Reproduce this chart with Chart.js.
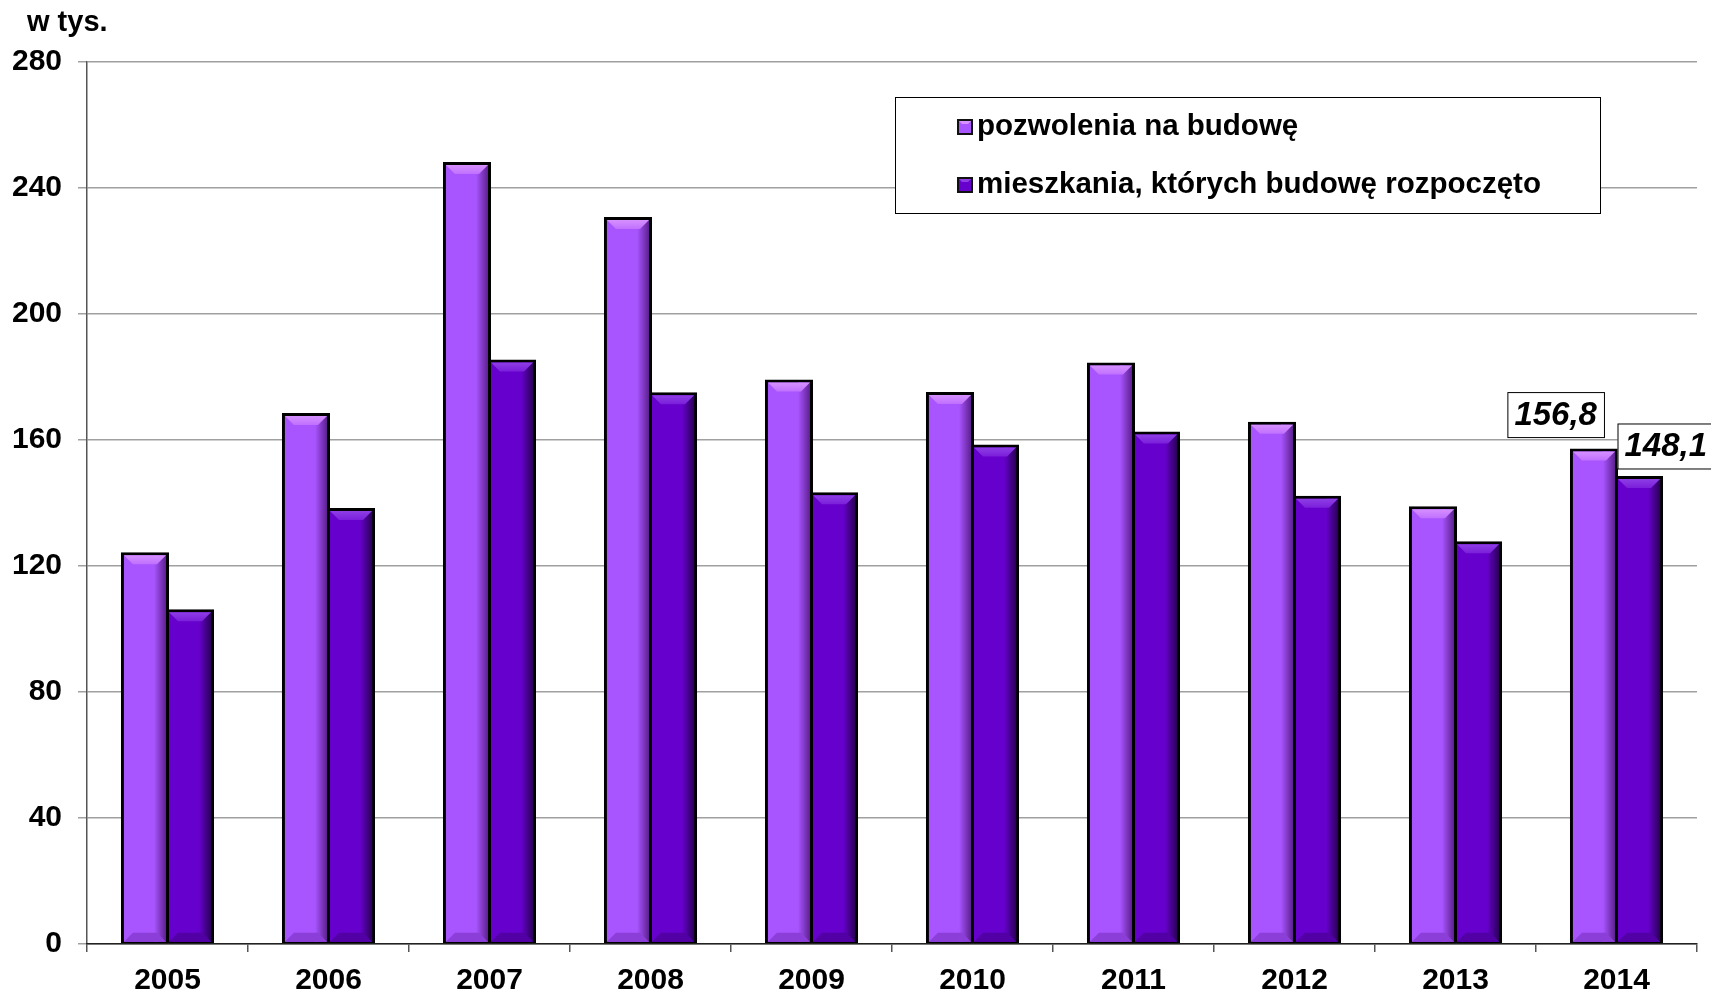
<!DOCTYPE html>
<html>
<head>
<meta charset="utf-8">
<script src="https://cdn.jsdelivr.net/npm/chart.js@4/dist/chart.umd.min.js"></script>
<style>
html,body{margin:0;padding:0;background:#fff;}
canvas{display:block;}
</style>
</head>
<body>
<canvas id="c" width="1711" height="991"></canvas>
<script>
// ---- data ----
const years = ['2005','2006','2007','2008','2009','2010','2011','2012','2013','2014'];
const permits = [123.9, 168.1, 247.8, 230.3, 178.7, 174.8, 184.1, 165.3, 138.5, 156.8];
const started = [105.8, 137.9, 185.1, 174.7, 142.9, 158.1, 162.2, 141.8, 127.4, 148.1];
const seriesNames = ['pozwolenia na budowę', 'mieszkania, których budowę rozpoczęto'];
const yTicks = [0, 40, 80, 120, 160, 200, 240, 280];
const unitLabel = 'w tys.';
const labeledYear = '2014';

const FONT = '"Liberation Sans", Arial, Helvetica, sans-serif';
const palettes = [
  {main:'#A855FF', top:'#D690FF', topEdge:'#C070FF', right:'#5E2090', bottom:'#8C3FD8'},
  {main:'#6600CC', top:'#8E3DE6', topEdge:'#7A1FDA', right:'#2A0058', bottom:'#5200A6'}
];
const INFLATE = 1.5;

function poly(ctx, pts, fill){
  ctx.beginPath();
  ctx.moveTo(pts[0][0], pts[0][1]);
  for (let i=1;i<pts.length;i++) ctx.lineTo(pts[i][0], pts[i][1]);
  ctx.closePath();
  ctx.fillStyle = fill;
  ctx.fill();
}

const bevelPlugin = {
  id:'bevel',
  afterDatasetsDraw(chart){
    const ctx = chart.ctx;
    chart.data.datasets.forEach((ds, di) => {
      const meta = chart.getDatasetMeta(di);
      const p = palettes[di];
      meta.data.forEach(el => {
        const {x, y, base, width} = el.getProps(['x','y','base','width'], true);
        const bw = 3;
        const l = x - width/2 + bw - INFLATE, r = x + width/2 - bw + INFLATE, t = y + bw - INFLATE, b = base - bw + INFLATE;
        const d = 9;
        ctx.save();
        const g = ctx.createLinearGradient(r - 12, 0, r, 0);
        g.addColorStop(0, p.main);
        g.addColorStop(1, p.right);
        poly(ctx, [[r-12,t],[r,t],[r,b],[r-12,b]], g);
        const gt = ctx.createLinearGradient(0, t, 0, t+d);
        gt.addColorStop(0, p.top);
        gt.addColorStop(1, p.topEdge);
        poly(ctx, [[l,t],[r,t],[r-d,t+d],[l+d,t+d]], gt);
        poly(ctx, [[l,b],[r,b],[r-d,b-d],[l+d,b-d]], p.bottom);
        ctx.restore();
      });
    });
    const idx = chart.data.labels.indexOf(labeledYear);
    if (idx < 0) return;
    ctx.save();
    ctx.font = 'italic bold 33px ' + FONT;
    ctx.textBaseline = 'middle';
    chart.data.datasets.forEach((ds, di) => {
      const el = chart.getDatasetMeta(di).data[idx];
      const {x, y, width} = el.getProps(['x','y','width'], true);
      const txt = ds.data[idx].toFixed(1).replace('.', ',');
      const tw = ctx.measureText(txt).width;
      const bwid = tw + 14, bh = 45;
      let bx, by;
      if (di === 0) { bx = x + 10 - bwid; by = y - 13 - bh; }
      else { bx = x - width/2 + 1; by = y - 9 - bh; }
      ctx.fillStyle = '#fff';
      ctx.fillRect(bx, by, bwid, bh);
      ctx.strokeStyle = '#000';
      ctx.lineWidth = 1;
      ctx.strokeRect(bx + 0.5, by + 0.5, bwid, bh);
      ctx.fillStyle = '#000';
      ctx.textAlign = 'center';
      ctx.fillText(txt, bx + bwid/2, by + bh/2 + 1);
    });
    ctx.restore();
  }
};

const decorPlugin = {
  id:'decor',
  afterDraw(chart){
    const ctx = chart.ctx;
    ctx.save();
    ctx.font = 'bold 29px ' + FONT;
    ctx.fillStyle = '#000';
    ctx.textBaseline = 'middle';
    ctx.textAlign = 'left';
    ctx.fillText(unitLabel, 27, 23);
    const lx = 895, ly = 97, lw = 705, lh = 116;
    ctx.fillStyle = '#fff';
    ctx.fillRect(lx, ly, lw, lh);
    ctx.strokeStyle = '#000';
    ctx.lineWidth = 1;
    ctx.strokeRect(lx + 0.5, ly + 0.5, lw, lh);
    const rowsY = [127, 185];
    chart.data.datasets.forEach((ds, di) => {
      const p = palettes[di];
      const cy = rowsY[di];
      const mx = 957, my = cy - 8, ms = 16;
      ctx.fillStyle = '#111';
      ctx.fillRect(mx, my, ms, ms);
      ctx.fillStyle = p.main;
      ctx.fillRect(mx + 2, my + 2, ms - 4, ms - 4);
      poly(ctx, [[mx+2,my+2],[mx+ms-2,my+2],[mx+ms-5,my+5],[mx+5,my+5]], p.top);
      ctx.fillStyle = '#000';
      ctx.font = 'bold 29.5px ' + FONT;
      ctx.fillText(ds.label, 977, cy);
    });
    ctx.restore();
  }
};

new Chart(document.getElementById('c'), {
  type:'bar',
  data:{
    labels: years,
    datasets:[
      {label: seriesNames[0], data: permits, backgroundColor: palettes[0].main, borderColor:'#000', borderWidth:3, borderSkipped:false, inflateAmount:INFLATE},
      {label: seriesNames[1], data: started, backgroundColor: palettes[1].main, borderColor:'#000', borderWidth:3, borderSkipped:false, inflateAmount:INFLATE}
    ]
  },
  options:{
    responsive:false,
    devicePixelRatio:1,
    animation:false,
    layout:{padding:{top:62, right:14, left:0, bottom:0}},
    datasets:{bar:{categoryPercentage:0.56, barPercentage:1.0}},
    plugins:{legend:{display:false}, tooltip:{enabled:false}, title:{display:false}},
    scales:{
      x:{
        grid:{display:true, drawOnChartArea:false, drawTicks:true, tickLength:8, offset:true, color:'#555', lineWidth:1.5},
        border:{display:true, color:'#222', width:1.5, z:1},
        ticks:{font:{family:FONT, size:30, weight:'bold'}, color:'#000', padding:11},
        afterFit(s){ s.height = 47; }
      },
      y:{
        min:0, max:280,
        afterBuildTicks(s){ s.ticks = yTicks.map(v => ({value:v})); },
        grid:{color:'#a0a0a0', lineWidth:1.5, tickLength:9, drawTicks:true},
        border:{display:true, color:'#555', width:1.5},
        ticks:{font:{family:FONT, size:30, weight:'bold'}, color:'#000', padding:16},
        afterFit(s){ s.width = 87; }
      }
    }
  },
  plugins:[bevelPlugin, decorPlugin]
});
</script>
</body>
</html>
